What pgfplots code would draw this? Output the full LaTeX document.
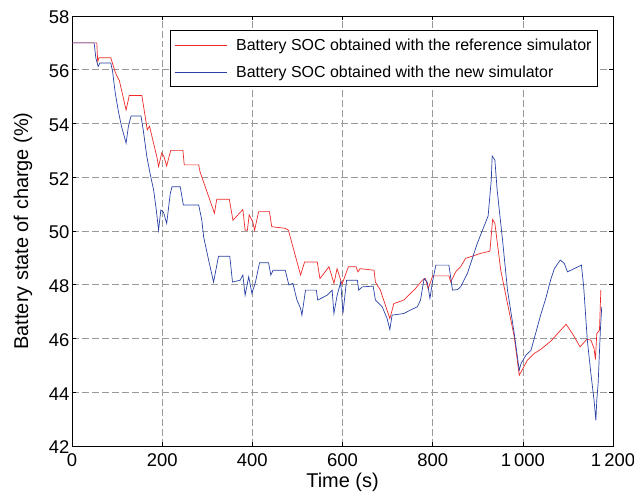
\documentclass[border=0pt]{standalone}
\usepackage{pgfplots}
\pgfplotsset{compat=1.18}
\usepackage{fontspec}
\setmainfont{Liberation Sans}
\definecolor{refred}{RGB}{238,40,40}
\definecolor{newblue}{RGB}{40,65,165}
\pgfplotsset{
  mylegimg/.style={legend image code/.code={\draw[mark repeat=2,mark phase=2,##1] plot coordinates {(0cm,0cm) (0.92cm,0cm) (1.84cm,0cm)};}},
}
\begin{document}
\begin{tikzpicture}
\begin{axis}[
  scale only axis,
  width=541bp, height=430bp,
  xmin=0, xmax=1200, ymin=42, ymax=58,
  xtick={0,200,...,1200}, ytick={42,44,...,58},
  /pgf/number format/assume math mode=true,
  /pgf/number format/1000 sep={\,},
  tick label style={font=\fontsize{18.5}{20}\selectfont},
  label style={font=\fontsize{20}{22}\selectfont},
  xticklabel style={yshift=-4pt},
  yticklabel style={xshift=1pt, yshift=-1.5pt},
  xlabel={Time (s)}, ylabel={Battery state of charge (\%)},
  xlabel style={yshift=0pt},
  ylabel style={yshift=10pt},
  grid=major,
  major grid style={gray!80, dash pattern=on 7pt off 3pt, line width=0.6pt},
  tick style={black, line width=0.6pt},
  tick align=inside,
  axis line style={black, line width=0.8pt},
  legend style={at={(0.972,0.967)}, anchor=north east, font=\fontsize{16}{18}\selectfont,
    draw=black, line width=0.8pt, inner xsep=4pt, inner ysep=6pt, row sep=10pt,
    /tikz/every odd column/.append style={column sep=7pt}},
  legend cell align=left,
]
\addplot[refred, line width=0.7pt, forget plot] coordinates {
(0,57.0)(55,57.0)(57,56.3)(60,56.45)(86,56.45)(95,55.95)(100,55.75)(105,55.6)(120,54.5)(127,55.04)(155,55.04)
(167,53.76)(172,53.9)(179,53.4)(189,52.7)(192,52.4)(199,52.9)(204,52.77)(210,52.42)(219,53.0)(246,53.0)
(249,52.46)(281,52.46)(284,52.2)(316,50.66)(321,51.18)(349,51.18)(357,50.4)(379,50.8)(384,50.03)(389,50.03)
(393,50.6)(401,50.34)(405,50.03)(414,50.72)(438,50.72)(443,50.16)(473,50.1)(480,50.03)(507,48.36)(516,48.85)
(544,48.85)(550,48.23)(570,48.67)(581,48.05)(588,48.6)(599,48.02)(613,48.67)(630,48.67)(634,48.48)(639,48.6)
(670,48.54)(673,48.1)(684,47.8)(705,46.74)(714,47.3)(736,47.43)(751,47.68)(762,47.86)(777,48.17)(784,48.23)
(790,47.85)(800,48.33)(836,48.33)(840,48.1)(851,48.48)(862,48.67)(873,48.98)(907,49.17)(927,49.25)(933,50.43)
(938,50.28)(951,48.54)(966,47.3)(981,46.06)(992,44.63)(1010,45.19)(1025,45.44)(1040,45.6)(1062,45.9)(1084,46.31)
(1096,46.53)(1110,46.18)(1127,45.69)(1142,45.97)(1151,45.94)(1158,45.63)(1161,45.22)(1164,46.18)(1170,46.31)(1173,47.8)
};
\addplot[newblue, line width=0.7pt, forget plot] coordinates {
(0,57)(49,57)(53,56.43)(58,56.12)(62,56.25)(86,56.25)(90,55.94)(96,55.13)(103,54.44)(110,53.88)(120,53.27)
(125,53.88)(131,54.28)(153,54.28)(158,53.76)(166,52.77)(173,52.15)(181,51.53)(187,50.78)(192,50.03)(197,50.78)
(203,50.7)(210,50.28)(218,51.4)(222,51.65)(240,51.65)(247,50.97)(281,50.97)(288,50.4)(292,49.78)(303,48.92)
(314,48.1)(325,49.06)(350,49.06)(356,48.1)(373,48.17)(379,48.36)(384,47.61)(392,48.3)(399,47.68)(407,48.1)
(416,48.82)(436,48.82)(441,48.36)(446,48.54)(473,48.54)(481,47.99)(490,48.05)(499,47.43)(507,47.12)(510,46.87)
(518,47.8)(542,47.8)(545,47.43)(566,47.61)(577,47.8)(581,46.93)(588,47.6)(596,48.1)(601,46.93)(609,48.17)
(633,48.17)(636,47.8)(644,47.92)(668,47.95)(673,47.43)(688,47.18)(699,46.74)(705,46.33)(710,46.87)(736,46.93)
(751,47.06)(766,47.18)(773,47.43)(781,48.23)(788,48.1)(794,47.49)(799,48.05)(807,48.73)(836,48.73)(844,47.8)
(855,47.82)(862,47.92)(877,48.42)(899,49.54)(923,50.56)(930,51.9)(932,52.79)(938,52.64)(943,51.53)(955,49.66)
(966,47.8)(981,46.18)(988,45.31)(992,44.82)(996,45.07)(1007,45.38)(1018,45.56)(1040,46.9)(1051,47.5)(1062,48.2)
(1070,48.6)(1083,48.92)(1092,48.79)(1099,48.48)(1130,48.73)(1135,47.92)(1143,45.94)(1151,44.69)(1158,43.7)
(1162,42.95)(1164,43.7)(1167,44.32)(1172,46.31)(1175,47.18)
};
\addlegendimage{refred, line width=0.8pt, mylegimg}
\addlegendentry{Battery SOC obtained with the reference simulator}
\addlegendimage{newblue, line width=0.8pt, mylegimg}
\addlegendentry{Battery SOC obtained with the new simulator}
\end{axis}
\pgfresetboundingbox
\path ([xshift=-72bp,yshift=-49bp]current axis.south west) rectangle ([xshift=21bp,yshift=16bp]current axis.north east);
\end{tikzpicture}
\end{document}
